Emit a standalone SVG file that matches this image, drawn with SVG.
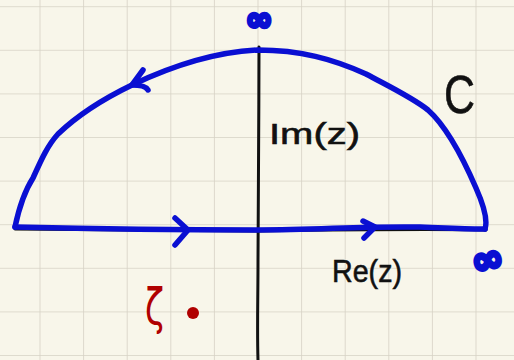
<svg xmlns="http://www.w3.org/2000/svg" width="514" height="360" viewBox="0 0 514 360">
  <defs>
    <pattern id="grid" x="39.5" y="6.2" width="43.6" height="43.6" patternUnits="userSpaceOnUse">
      <path d="M0,0 L43.6,0 M0,0 L0,43.6" fill="none" stroke="#d6d2c5" stroke-width="1.6"/>
    </pattern>
  </defs>
  <style>
    .blue { fill: none; stroke: #0a0fd2; stroke-width: 5.5; stroke-linecap: round; stroke-linejoin: round; }
    .axis { fill: none; stroke: #111111; stroke-width: 3; stroke-linecap: round; }
    .lbl { font-family: "Liberation Sans", Arial, sans-serif; fill: #111111; stroke: #111111; stroke-width: 0.6; }
    .inf { font-family: "DejaVu Sans", sans-serif; fill: #0a0fd2; stroke: #0a0fd2; stroke-width: 4; stroke-linejoin: round; font-weight: bold; }
    .red { fill: #b00000; }
  </style>
  <rect width="514" height="360" fill="#f8f6ea"/>
  <rect width="514" height="360" fill="url(#grid)"/>

  <g id="axes">
    <path class="axis" d="M259,47 C259,120 258,200 258,260 C258,300 257,330 258,360"/>
    <path class="axis" d="M15,229 C120,230 200,231 258,231 C330,230 420,229 486,230"/>
  </g>

  <g id="connectors">
    <path id="contour-arc" class="blue" d="M15,227 C19,208 24,192 33,178 C42,158 48,145 58,134 C80,113 105,98 132,85 C170,67 215,52 258,50 C300,50 333,59 366,74 C392,88 413,98 428,110 C446,126 463,158 476,188 C484,206 488,220 485,229"/>
    <path id="contour-line" class="blue" d="M15,227 C100,229 200,230 258,230 C320,230 360,226 420,227 C450,228 470,229 485,229"/>
    <path id="arrow-top" class="blue" d="M143,70 L132,85 C140,85 146,86 148,90"/>
    <path id="arrow-bottom-1" class="blue" d="M175,218 L188,230 L175,245"/>
    <path id="arrow-bottom-2" class="blue" d="M363,221 L375,227 L364,238"/>
  </g>

  <g id="label-inf-top">
    <text class="inf" x="259" y="30" font-size="32" text-anchor="middle">∞</text>
  </g>
  <g id="label-inf-right">
    <text class="inf" x="0" y="0" font-size="38" text-anchor="middle" transform="translate(490,272) rotate(-12)">∞</text>
  </g>
  <g id="label-C">
    <text class="lbl" x="444" y="113" font-size="54" textLength="31" lengthAdjust="spacingAndGlyphs">C</text>
  </g>
  <g id="label-Im">
    <text class="lbl" x="269" y="144" font-size="30" textLength="91" lengthAdjust="spacingAndGlyphs">Im(z)</text>
  </g>
  <g id="label-Re">
    <text class="lbl" x="332" y="282" font-size="32" textLength="70" lengthAdjust="spacingAndGlyphs">Re(z)</text>
  </g>
  <g id="label-zeta">
    <text class="red" x="145" y="324" font-size="50" font-family="DejaVu Sans, sans-serif" textLength="19" lengthAdjust="spacingAndGlyphs">ζ</text>
    <circle class="red" cx="193" cy="313" r="6"/>
  </g>
</svg>
